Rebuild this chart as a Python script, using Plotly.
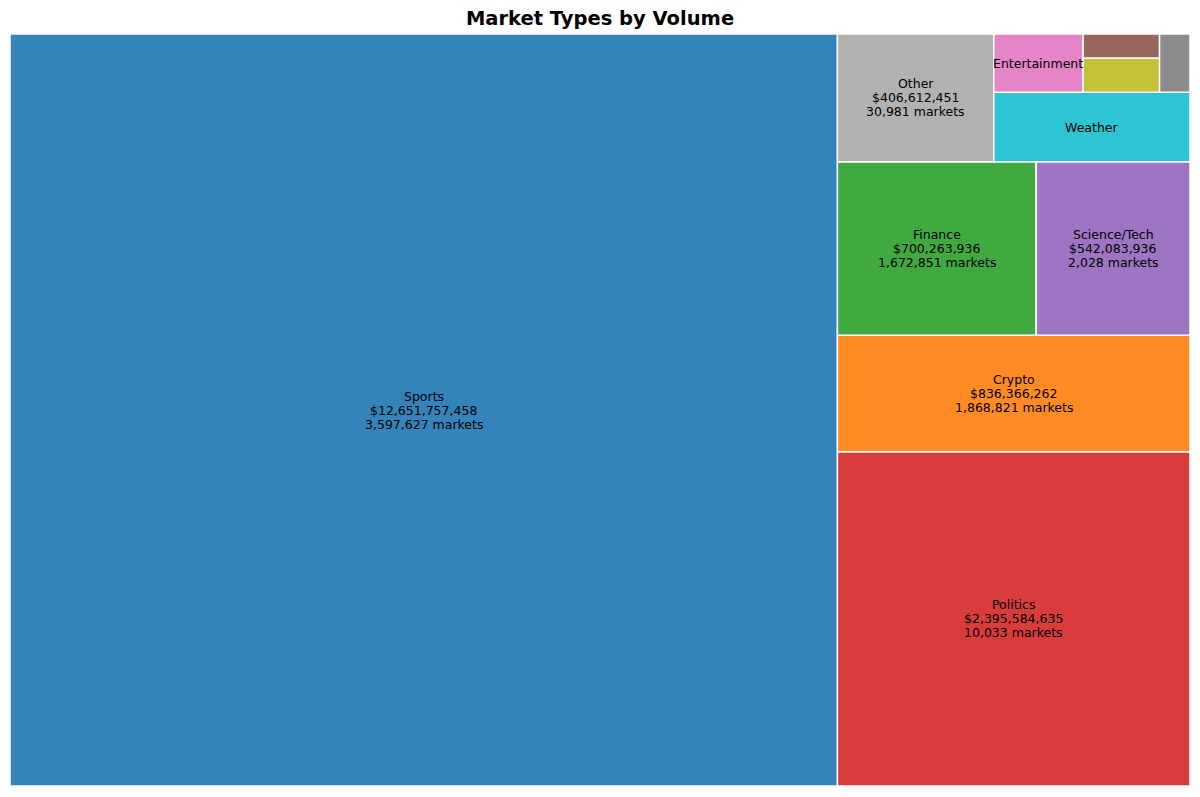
import plotly.graph_objects as go

# ---- data ----
categories = ["Sports", "Politics", "Crypto", "Finance", "Science/Tech", "Other",
              "Weather", "Entertainment", "Economics", "Culture", "Health"]
volumes = [12651757458, 2395584635, 836366262, 700263936, 542083936, 406612451,
           278000000, 105600000, 53000000, 37500000, 36000000]
market_counts = [3597627, 10033, 1868821, 1672851, 2028, 30981,
                 None, None, None, None, None]
colors = ["#1f77b4", "#d62728", "#ff7f0e", "#2ca02c", "#9467bd", "#aaaaaa",
          "#17becf", "#e377c2", "#bcbd22", "#8c564b", "#7f7f7f"]


# ---- squarify (same algorithm as the python `squarify` package) ----
def normalize_sizes(sizes, dx, dy):
    total = sum(sizes)
    return [s * dx * dy / total for s in sizes]


def layoutrow(sizes, x, y, dx, dy):
    width = sum(sizes) / dy
    rects = []
    for s in sizes:
        rects.append((x, y, width, s / width))
        y += s / width
    return rects


def layoutcol(sizes, x, y, dx, dy):
    height = sum(sizes) / dx
    rects = []
    for s in sizes:
        rects.append((x, y, s / height, height))
        x += s / height
    return rects


def layout(sizes, x, y, dx, dy):
    return layoutrow(sizes, x, y, dx, dy) if dx >= dy else layoutcol(sizes, x, y, dx, dy)


def leftover(sizes, x, y, dx, dy):
    a = sum(sizes)
    if dx >= dy:
        w = a / dy
        return x + w, y, dx - w, dy
    h = a / dx
    return x, y + h, dx, dy - h


def worst_ratio(sizes, x, y, dx, dy):
    return max(max(r[2] / r[3], r[3] / r[2]) for r in layout(sizes, x, y, dx, dy))


def squarify(sizes, x, y, dx, dy):
    if not sizes:
        return []
    if len(sizes) == 1:
        return layout(sizes, x, y, dx, dy)
    i = 1
    while i < len(sizes) and worst_ratio(sizes[:i], x, y, dx, dy) >= worst_ratio(sizes[:i + 1], x, y, dx, dy):
        i += 1
    cur, rem = sizes[:i], sizes[i:]
    lx, ly, ldx, ldy = leftover(cur, x, y, dx, dy)
    return layout(cur, x, y, dx, dy) + squarify(rem, lx, ly, ldx, ldy)


W, H = 100.0, 100.0
rects = squarify(normalize_sizes(volumes, W, H), 0, 0, W, H)

fig = go.Figure()
hover = []
for name, v, c in zip(categories, volumes, market_counts):
    h = f"{name}<br>${v:,.0f}"
    if c is not None:
        h += f"<br>{c:,} markets"
    hover.append(h)

fig.add_trace(go.Bar(
    x=[r[0] + r[2] / 2 for r in rects],
    width=[r[2] for r in rects],
    base=[r[1] for r in rects],
    y=[r[3] for r in rects],
    marker=dict(color=colors, opacity=0.9, line=dict(color="white", width=1.5)),
    hovertext=hover,
    hoverinfo="text",
    showlegend=False,
))

LINE_GAP = 14  # px between label lines
FONT = dict(family="DejaVu Sans", size=12.5, color="black")
for (x, y, dx, dy), name, v, c in zip(rects, categories, volumes, market_counts):
    cx, cy = x + dx / 2, y + dy / 2
    if v > 3e8 and c is not None:
        lines = [name, f"${v:,.0f}", f"{c:,} markets"]
    elif v > 1e8:
        lines = [name]
    else:
        lines = []
    n = len(lines)
    for k, t in enumerate(lines):
        fig.add_annotation(x=cx, y=cy, text=t, showarrow=False, font=FONT,
                           xanchor="center", yanchor="middle",
                           yshift=((n - 1) / 2 - k) * LINE_GAP)

fig.update_layout(
    width=1200, height=797,
    margin=dict(l=10, r=10, t=34, b=11),
    paper_bgcolor="white", plot_bgcolor="white",
    barmode="overlay",
    title=dict(text="<b>Market Types by Volume</b>", x=0.5, xanchor="center",
               y=1 - 18 / 797, yanchor="middle",
               font=dict(family="DejaVu Sans", size=19.5, color="black")),
    xaxis=dict(range=[0, W], visible=False, fixedrange=True),
    yaxis=dict(range=[0, H], visible=False, fixedrange=True),
)

fig.write_html("out.html", config={"displayModeBar": False},
               post_script="document.body.style.margin='0';document.body.style.overflow='hidden';")
